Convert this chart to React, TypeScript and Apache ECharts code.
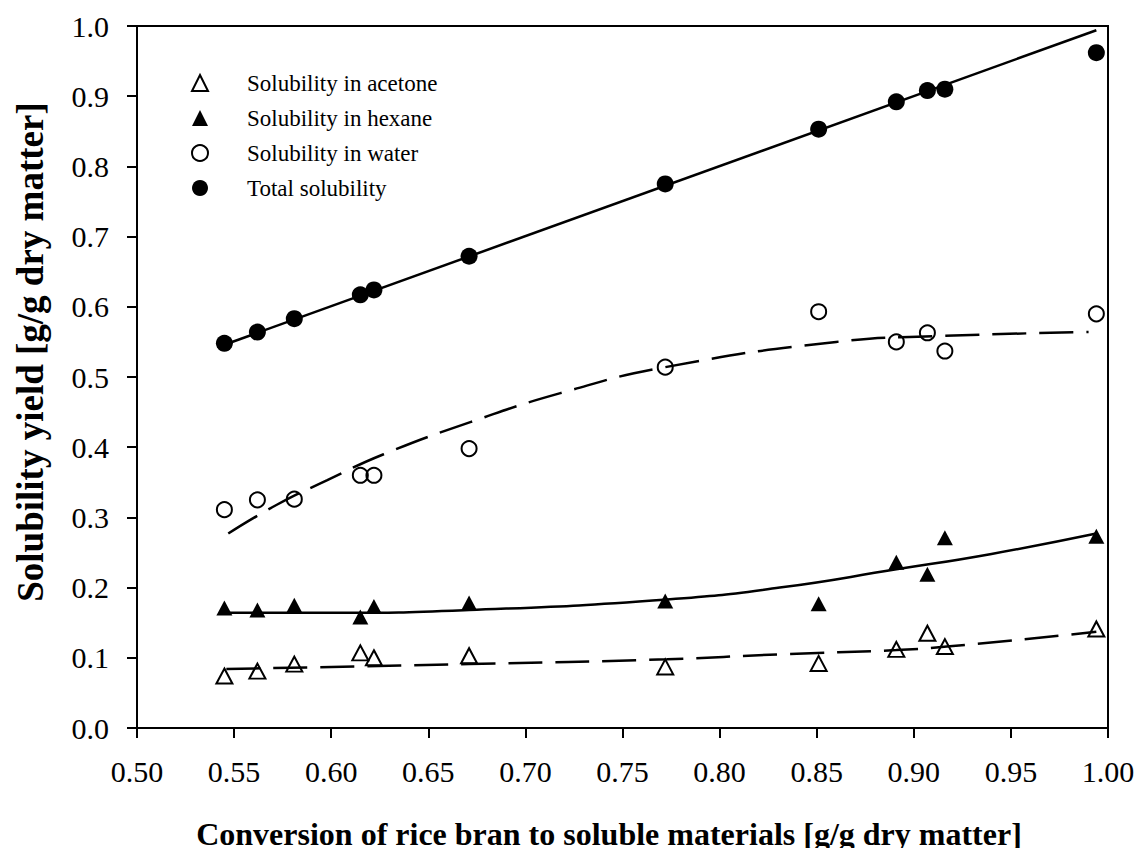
import React, { useEffect, useRef } from "react";
import * as echarts from "echarts";

const conversion = [0.545, 0.562, 0.581, 0.615, 0.622, 0.671, 0.772, 0.851, 0.891, 0.907, 0.916, 0.994];
const acetone = [0.074, 0.081, 0.091, 0.107, 0.100, 0.103, 0.087, 0.092, 0.112, 0.135, 0.116, 0.141];
const hexane = [0.171, 0.168, 0.175, 0.158, 0.173, 0.178, 0.181, 0.177, 0.236, 0.219, 0.271, 0.273];
const water = [0.311, 0.325, 0.326, 0.360, 0.360, 0.398, 0.514, 0.593, 0.550, 0.563, 0.537, 0.590];
const total = [0.548, 0.564, 0.583, 0.617, 0.624, 0.672, 0.775, 0.853, 0.892, 0.908, 0.910, 0.962];

const acetoneFit = [[0.546, 0.084], [0.600, 0.087], [0.671, 0.091], [0.773, 0.098], [0.831, 0.105], [0.891, 0.111], [0.917, 0.116], [0.994, 0.137]];
const hexaneFit = [[0.546, 0.164], [0.600, 0.164], [0.671, 0.168], [0.773, 0.183], [0.831, 0.200], [0.891, 0.226], [0.940, 0.248], [0.994, 0.277]];
const waterFit = [[0.547, 0.277], [0.572, 0.318], [0.598, 0.353], [0.627, 0.390], [0.672, 0.436], [0.718, 0.477], [0.772, 0.514], [0.860, 0.550], [0.910, 0.558], [0.990, 0.564]];
const totalFit = [[0.545, 0.546], [0.994, 0.994]];

const xTitle = "Conversion of rice bran to soluble materials [g/g dry matter]";
const yTitle = "Solubility yield [g/g dry matter]";
const legendNames = ["Solubility in acetone", "Solubility in hexane", "Solubility in water", "Total solubility"];

const FONT = "Liberation Serif";

export default function App() {
  const ref = useRef<HTMLDivElement>(null);
  useEffect(() => {
    if (!ref.current) return;
    const chart = echarts.init(ref.current, null, { renderer: "svg" });
    const pts = (ys: number[]) => conversion.map((x, i) => [x, ys[i]]);
    const openStyle = { color: "rgba(0,0,0,0)", borderColor: "#000", borderWidth: 2, opacity: 1 };
    const fillStyle = { color: "#000", borderColor: "#000", borderWidth: 0, opacity: 1 };
    const lineCommon = { type: "line", showSymbol: false, symbol: "none", silent: true, z: 3 };
    chart.setOption({
      animation: false,
      backgroundColor: "#fff",
      textStyle: { fontFamily: FONT },
      grid: { left: 137, right: 36, top: 26, bottom: 128, show: true, borderColor: "#000", borderWidth: 2, containLabel: false },
      legend: {
        data: legendNames,
        orient: "vertical",
        left: 186,
        top: 66,
        itemWidth: 16,
        itemHeight: 16,
        itemGap: 11,
        textStyle: { fontFamily: FONT, fontSize: 23, color: "#000", lineHeight: 24, padding: [0, 0, 0, 34] },
        selectedMode: false,
      },
      xAxis: {
        type: "value",
        min: 0.5,
        max: 1.0,
        interval: 0.05,
        axisLine: { show: true, onZero: false, lineStyle: { color: "#000", width: 2 } },
        axisTick: { show: true, inside: false, length: 10, lineStyle: { color: "#000", width: 2 } },
        splitLine: { show: false },
        axisLabel: { fontFamily: FONT, fontSize: 30, color: "#000", margin: 28, formatter: (v: number) => v.toFixed(2) },
      },
      yAxis: {
        type: "value",
        min: 0,
        max: 1.0,
        interval: 0.1,
        axisLine: { show: true, onZero: false, lineStyle: { color: "#000", width: 2 } },
        axisTick: { show: true, inside: false, length: 10, lineStyle: { color: "#000", width: 2 } },
        splitLine: { show: false },
        axisLabel: { fontFamily: FONT, fontSize: 30, color: "#000", margin: 28, formatter: (v: number) => v.toFixed(1) },
      },
      graphic: [
        {
          type: "text",
          x: 609,
          y: 834,
          style: { text: xTitle, fontFamily: FONT, fontSize: 32, fontWeight: "bold", fill: "#000", align: "center", verticalAlign: "middle" },
        },
        {
          type: "text",
          x: 30,
          y: 352,
          rotation: Math.PI / 2,
          style: { text: yTitle, fontFamily: FONT, fontSize: 37, fontWeight: "bold", fill: "#000", align: "center", verticalAlign: "middle" },
        },
      ],
      series: [
        { ...lineCommon, name: "acetone fit", data: acetoneFit, smooth: true, lineStyle: { color: "#000", width: 2.5, type: [34, 13] } },
        { ...lineCommon, name: "hexane fit", data: hexaneFit, smooth: true, lineStyle: { color: "#000", width: 2.5, type: "solid" } },
        { ...lineCommon, name: "water fit", data: waterFit, smooth: true, lineStyle: { color: "#000", width: 2.5, type: [34, 13] } },
        { ...lineCommon, name: "total fit", data: totalFit, smooth: false, lineStyle: { color: "#000", width: 2.5, type: "solid" } },
        { type: "scatter", name: legendNames[0], data: pts(acetone), symbol: "triangle", symbolSize: [16, 15], itemStyle: openStyle, z: 4 },
        { type: "scatter", name: legendNames[1], data: pts(hexane), symbol: "triangle", symbolSize: [16, 15], itemStyle: fillStyle, z: 4 },
        { type: "scatter", name: legendNames[2], data: pts(water), symbol: "circle", symbolSize: 15, itemStyle: openStyle, z: 4 },
        { type: "scatter", name: legendNames[3], data: pts(total), symbol: "circle", symbolSize: 17, itemStyle: fillStyle, z: 4 },
      ],
    });
    return () => chart.dispose();
  }, []);
  return <div ref={ref} style={{ width: 1144, height: 856, margin: -8 }} />;
}
